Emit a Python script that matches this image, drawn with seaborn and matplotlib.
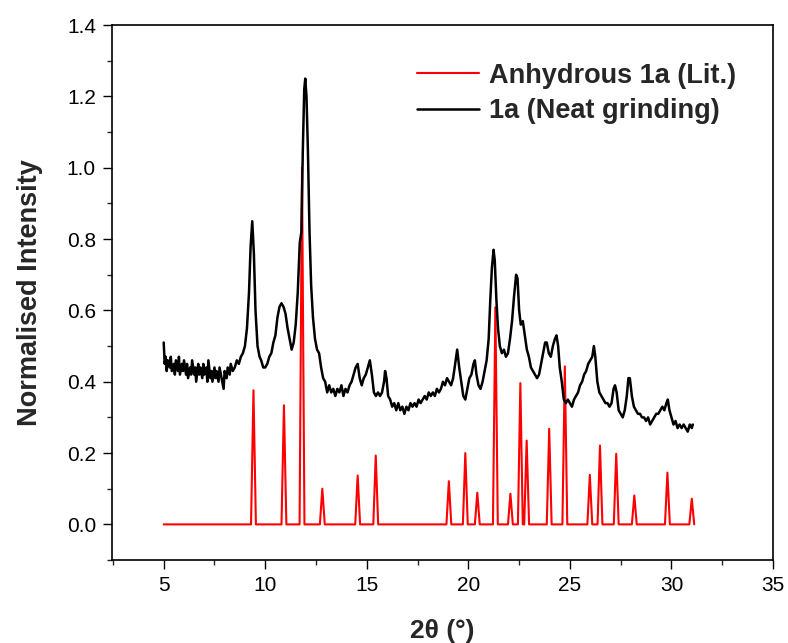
import matplotlib
matplotlib.use("Agg")
import matplotlib.pyplot as plt
from matplotlib.ticker import MultipleLocator
import seaborn as sns
import pandas as pd

# ---- data ----
lit_positions = [9.42, 10.92, 11.81, 12.81, 14.55, 15.44, 19.04, 19.85, 20.44, 21.33,
                 22.07, 22.56, 22.87, 23.98, 24.75, 25.98, 26.48, 27.28, 28.17, 29.80, 31.00]
lit_heights = [0.376, 0.334, 1.000, 0.100, 0.137, 0.193, 0.121, 0.200, 0.089, 0.609,
               0.086, 0.396, 0.235, 0.268, 0.443, 0.139, 0.221, 0.198, 0.081, 0.145, 0.072]
lit_start = 5.0
stick_halfwidth = 0.12

neat_2theta = [
    5.00, 5.05, 5.10, 5.15, 5.20, 5.30, 5.35, 5.40, 5.50, 5.55, 5.60, 5.70, 5.75, 5.80, 5.90, 5.95,
    6.00, 6.10, 6.15, 6.20, 6.30, 6.35, 6.40, 6.50, 6.55, 6.60, 6.70, 6.75, 6.80, 6.90, 6.95,
    7.00, 7.10, 7.15, 7.20, 7.30, 7.35, 7.40, 7.50, 7.55, 7.60, 7.70, 7.75, 7.85, 7.95,
    8.00, 8.10, 8.15, 8.25, 8.30, 8.40, 8.50, 8.60, 8.70, 8.80, 8.90,
    9.00, 9.10, 9.20, 9.28, 9.36, 9.44, 9.52, 9.62, 9.72, 9.80, 9.90,
    10.00, 10.10, 10.20, 10.30, 10.40, 10.50, 10.60, 10.70, 10.80, 10.90,
    11.00, 11.10, 11.20, 11.30, 11.40, 11.50, 11.60, 11.70, 11.78, 11.85, 11.92, 11.97,
    12.03, 12.10, 12.18, 12.26, 12.35, 12.45, 12.55, 12.65, 12.75, 12.85, 12.95,
    13.05, 13.15, 13.25, 13.35, 13.45, 13.55, 13.65, 13.75, 13.85, 13.95,
    14.05, 14.15, 14.25, 14.35, 14.45, 14.55, 14.65, 14.75, 14.85, 14.95,
    15.05, 15.15, 15.25, 15.35, 15.45, 15.55, 15.65, 15.75, 15.85, 15.90, 15.97,
    16.05, 16.15, 16.25, 16.35, 16.45, 16.55, 16.65, 16.75, 16.85, 16.95,
    17.05, 17.15, 17.25, 17.35, 17.45, 17.55, 17.65, 17.75, 17.85, 17.95,
    18.05, 18.15, 18.25, 18.35, 18.45, 18.55, 18.65, 18.75, 18.85, 18.95,
    19.05, 19.15, 19.25, 19.35, 19.45, 19.55, 19.65, 19.75, 19.85, 19.95,
    20.05, 20.15, 20.25, 20.32, 20.40, 20.50, 20.60, 20.70, 20.80, 20.90,
    21.00, 21.08, 21.16, 21.24, 21.30, 21.38, 21.46, 21.55, 21.65, 21.75, 21.85, 21.95,
    22.05, 22.15, 22.25, 22.35, 22.42, 22.50, 22.58, 22.68, 22.78, 22.88, 22.98,
    23.08, 23.18, 23.28, 23.38, 23.48, 23.58, 23.68, 23.78, 23.86, 23.96,
    24.06, 24.16, 24.26, 24.34, 24.42, 24.50, 24.60, 24.70, 24.80, 24.90,
    25.00, 25.10, 25.20, 25.30, 25.40, 25.50, 25.60, 25.70, 25.80, 25.90,
    26.00, 26.10, 26.18, 26.25, 26.35, 26.45, 26.55, 26.65, 26.75, 26.85, 26.95,
    27.05, 27.15, 27.22, 27.30, 27.40, 27.50, 27.60, 27.70, 27.80, 27.88, 27.95,
    28.05, 28.15, 28.25, 28.35, 28.45, 28.55, 28.65, 28.75, 28.85, 28.95,
    29.05, 29.15, 29.25, 29.35, 29.45, 29.55, 29.65, 29.75, 29.82, 29.90,
    30.00, 30.10, 30.20, 30.30, 30.40, 30.50, 30.60, 30.70, 30.80, 30.90,
    31.00, 31.05,
]
neat_intensity = [
    0.51, 0.45, 0.47, 0.43, 0.46, 0.44, 0.47, 0.43, 0.45, 0.42, 0.46, 0.43, 0.47, 0.42, 0.45, 0.43,
    0.46, 0.42, 0.45, 0.41, 0.44, 0.42, 0.46, 0.42, 0.44, 0.40, 0.45, 0.42, 0.44, 0.41, 0.45,
    0.42, 0.44, 0.40, 0.46, 0.41, 0.43, 0.40, 0.44, 0.41, 0.43, 0.40, 0.44, 0.41, 0.38,
    0.43, 0.41, 0.44, 0.42, 0.45, 0.43, 0.44, 0.46, 0.45, 0.47, 0.48,
    0.50, 0.55, 0.65, 0.78, 0.85, 0.76, 0.60, 0.50, 0.47, 0.46, 0.44,
    0.44, 0.45, 0.47, 0.48, 0.51, 0.53, 0.58, 0.61, 0.62, 0.61,
    0.59, 0.55, 0.52, 0.49, 0.51, 0.56, 0.65, 0.79, 0.82, 1.05, 1.22, 1.25,
    1.20, 1.05, 0.82, 0.67, 0.58, 0.52, 0.49, 0.48, 0.44, 0.41, 0.40,
    0.37, 0.39, 0.37, 0.38, 0.36, 0.38, 0.37, 0.39, 0.36, 0.38,
    0.37, 0.39, 0.40, 0.42, 0.44, 0.45, 0.41, 0.39, 0.41, 0.42,
    0.44, 0.46, 0.42, 0.37, 0.36, 0.37, 0.36, 0.37, 0.40, 0.43, 0.41,
    0.36, 0.35, 0.33, 0.34, 0.32, 0.34, 0.32, 0.33, 0.31, 0.33,
    0.32, 0.34, 0.33, 0.34, 0.33, 0.35, 0.34, 0.35, 0.36, 0.35,
    0.37, 0.36, 0.37, 0.36, 0.38, 0.37, 0.38, 0.40, 0.39, 0.41,
    0.40, 0.39, 0.41, 0.45, 0.49, 0.44, 0.40, 0.36, 0.35, 0.38,
    0.41, 0.42, 0.45, 0.46, 0.42, 0.39, 0.38, 0.40, 0.43, 0.46,
    0.52, 0.63, 0.72, 0.77, 0.74, 0.63, 0.55, 0.50, 0.48, 0.49, 0.47, 0.48,
    0.52, 0.57, 0.64, 0.70, 0.69, 0.60, 0.56, 0.57, 0.53, 0.49, 0.47,
    0.44, 0.43, 0.42, 0.41, 0.42, 0.45, 0.48, 0.51, 0.51, 0.48,
    0.47, 0.50, 0.52, 0.53, 0.50, 0.44, 0.40, 0.35, 0.34, 0.35,
    0.34, 0.33, 0.35, 0.36, 0.37, 0.39, 0.40, 0.42, 0.43, 0.45,
    0.46, 0.47, 0.50, 0.47, 0.40, 0.37, 0.36, 0.35, 0.34, 0.34, 0.33,
    0.34, 0.38, 0.39, 0.37, 0.32, 0.31, 0.30, 0.32, 0.36, 0.41, 0.41,
    0.36, 0.33, 0.32, 0.31, 0.31, 0.30, 0.30, 0.29, 0.30, 0.28,
    0.29, 0.30, 0.31, 0.31, 0.32, 0.33, 0.32, 0.34, 0.35, 0.32,
    0.30, 0.28, 0.29, 0.27, 0.28, 0.27, 0.28, 0.27, 0.26, 0.28,
    0.27, 0.28,
]

legend_labels = ["Anhydrous 1a (Lit.)", "1a (Neat grinding)"]
x_ticks = [5, 10, 15, 20, 25, 30, 35]
y_ticks = [0.0, 0.2, 0.4, 0.6, 0.8, 1.0, 1.2, 1.4]

# ---- build the stick-pattern polyline from positions/heights ----
lit_x = [lit_start]
lit_y = [0.0]
for p, h in zip(lit_positions, lit_heights):
    lit_x += [p - stick_halfwidth, p, p + stick_halfwidth]
    lit_y += [0.0, h, 0.0]
lit_df = pd.DataFrame({"x": lit_x, "y": lit_y})
neat_df = pd.DataFrame({"x": neat_2theta, "y": neat_intensity})

sns.set_theme(style="ticks")
plt.rcParams["font.family"] = ["Liberation Sans", "DejaVu Sans"]
plt.rcParams["axes.linewidth"] = 1.2

fig = plt.figure(figsize=(7.88, 6.43), dpi=100)
ax = fig.add_axes([0.142, 0.129, 0.839, 0.832])

sns.lineplot(data=lit_df, x="x", y="y", ax=ax, color="#ff0000", linewidth=1.5,
             sort=False, estimator=None, label=legend_labels[0])
sns.lineplot(data=neat_df, x="x", y="y", ax=ax, color="black", linewidth=1.8,
             sort=False, estimator=None, label=legend_labels[1])

ax.set_xlim(2.45, 35)
ax.set_ylim(-0.1, 1.4)
ax.set_xticks(x_ticks)
ax.set_yticks(y_ticks)
ax.set_xticklabels([str(t) for t in x_ticks])
ax.set_yticklabels([f"{t:.1f}" for t in y_ticks])
ax.xaxis.set_minor_locator(MultipleLocator(2.5))
ax.yaxis.set_minor_locator(MultipleLocator(0.1))
ax.tick_params(which="major", direction="out", length=6.5, width=1.0,
               labelsize=15, pad=5, colors="black")
ax.tick_params(which="minor", direction="out", length=3.5, width=1.0)
ax.tick_params(top=False, right=False, which="both")
for s in ax.spines.values():
    s.set_visible(True)
    s.set_color("black")
    s.set_linewidth(1.2)

ax.set_xlabel("2θ (°)", fontsize=19, fontweight="bold", labelpad=17)
ax.set_ylabel("Normalised Intensity", fontsize=19.5, fontweight="bold", labelpad=17)

leg = ax.legend(loc="upper left", bbox_to_anchor=(0.445, 0.95), frameon=False,
                prop={"weight": "bold", "size": 19.5}, handlelength=2.3,
                handletextpad=0.35, labelspacing=0.35, borderaxespad=0)

fig.savefig("out.png", dpi=100)
